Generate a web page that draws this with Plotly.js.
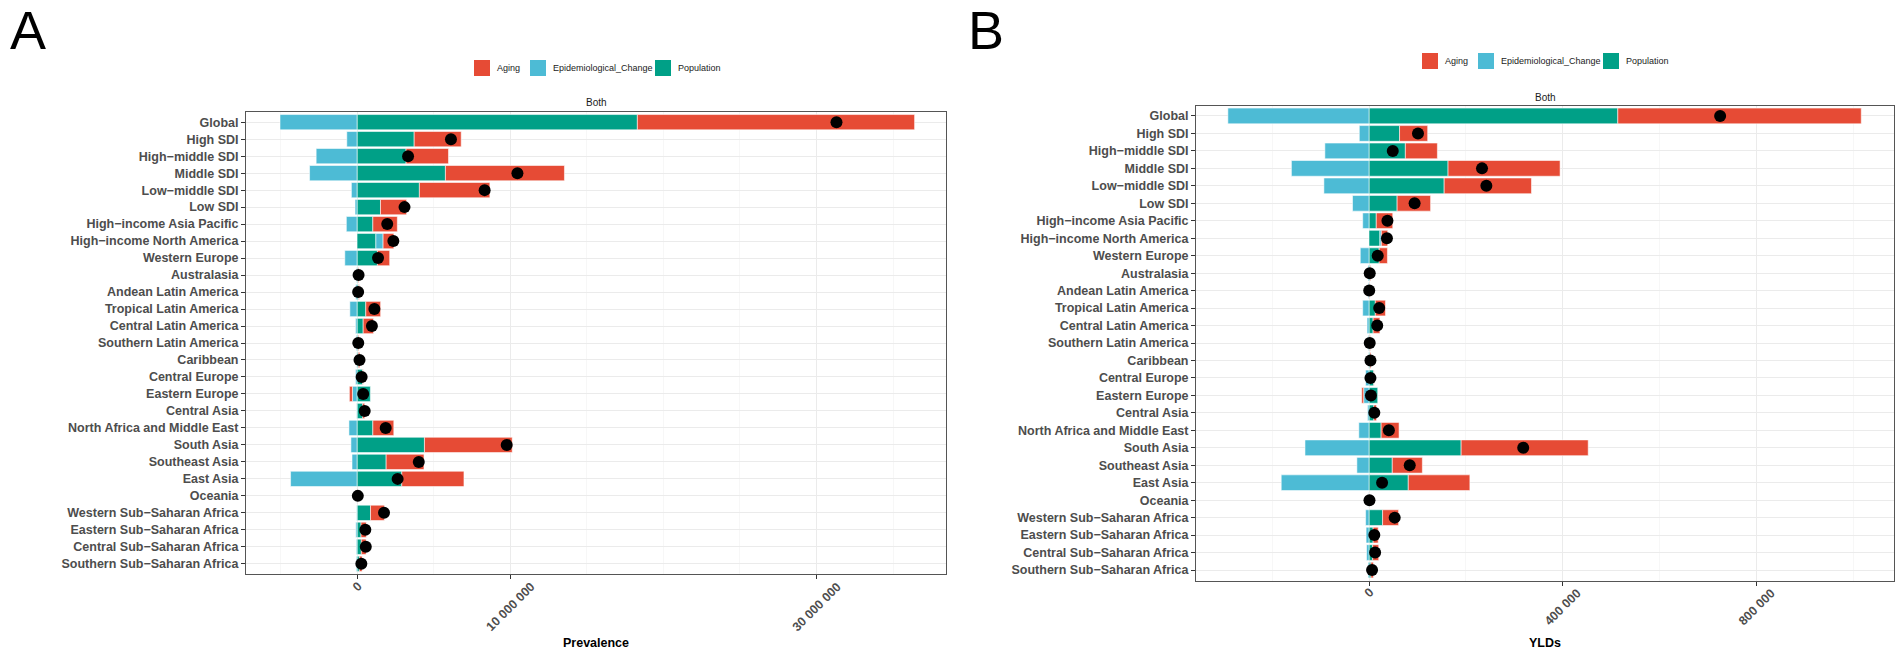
<!DOCTYPE html>
<html>
<head>
<meta charset="utf-8">
<script src="https://cdn.plot.ly/plotly-3.0.1.min.js"></script>
<style>
  html, body { margin: 0; padding: 0; background: #ffffff; }
  #chart { width: 1902px; height: 650px; }
</style>
</head>
<body>
<div id="chart"></div>
<script>
// ---------------- DATA ----------------
const categories = [
  "Global", "High SDI", "High\u2212middle SDI", "Middle SDI", "Low\u2212middle SDI", "Low SDI",
  "High\u2212income Asia Pacific", "High\u2212income North America", "Western Europe", "Australasia",
  "Andean Latin America", "Tropical Latin America", "Central Latin America", "Southern Latin America",
  "Caribbean", "Central Europe", "Eastern Europe", "Central Asia", "North Africa and Middle East",
  "South Asia", "Southeast Asia", "East Asia", "Oceania", "Western Sub\u2212Saharan Africa",
  "Eastern Sub\u2212Saharan Africa", "Central Sub\u2212Saharan Africa", "Southern Sub\u2212Saharan Africa"
];

const legendNames = ["Aging", "Epidemiological_Change", "Population"];

// Panel A: Prevalence (cases)
const prevPopulation = [18300000, 3730000, 3200000, 5770000, 4070000, 1530000, 1030000, 1230000, 1330000, 60000,
  100000, 570000, 400000, 70000, 80000, 370000, 870000, 370000, 1030000, 4400000, 1900000, 2920000, 40000,
  880000, 260000, 280000, 150000];
const prevEpi = [-5030000, -670000, -2670000, -3100000, -370000, -130000, -700000, 470000, -800000, -30000,
  -80000, -470000, -100000, -50000, -20000, -100000, -300000, -30000, -530000, -400000, -330000, -4340000, -10000,
  -30000, -80000, -50000, -50000];
const prevAging = [18100000, 3070000, 2770000, 7770000, 4600000, 1700000, 1600000, 700000, 800000, 50000,
  50000, 970000, 670000, 50000, 100000, 30000, -200000, 130000, 1370000, 5730000, 2470000, 4060000, 20000,
  900000, 340000, 310000, 180000];
const prevTotal = [31300000, 6130000, 3330000, 10470000, 8330000, 3100000, 1970000, 2370000, 1370000, 100000,
  70000, 1130000, 970000, 80000, 160000, 300000, 400000, 500000, 1870000, 9770000, 4030000, 2650000, 50000,
  1760000, 540000, 570000, 280000];

// Panel B: YLDs
const yldPopulation = [513000, 63000, 75000, 163000, 155000, 58000, 15000, 22500, 21000, 2000,
  1200, 13000, 8500, 1500, 2000, 10000, 18000, 10000, 25000, 190000, 48000, 81000, 1000,
  28000, 8500, 7500, 4000];
const yldEpi = [-291000, -20000, -91000, -160000, -93000, -34000, -13000, 3000, -18000, -2000,
  -1500, -13000, -4000, -1500, -1000, -7000, -11000, -3000, -21000, -132000, -25000, -181000, -500,
  -7000, -6000, -5000, -2000];
const yldAging = [502000, 58000, 66000, 231000, 180000, 69000, 34000, 13000, 17000, 1500,
  800, 21000, 14000, 1500, 2000, 500, -4000, 5500, 37000, 262000, 62000, 127000, 500,
  33000, 10500, 12500, 5000];
const yldTotal = [724000, 101000, 49000, 233000, 242000, 94000, 38000, 37000, 18000, 1500,
  500, 21000, 17000, 1500, 3000, 3000, 4000, 11000, 41000, 318000, 84000, 27000, 1000,
  53000, 11000, 12600, 6300];

// Axis tick labels
const prevTickVals = [0, 10000000, 30000000];
const prevTickText = ["0", "10 000 000", "30 000 000"];
const yldTickVals = [0, 400000, 800000];
const yldTickText = ["0", "400 000", "800 000"];

// ---------------- STYLE ----------------
const colors = { "Aging": "#E64B35", "Epidemiological_Change": "#4DBBD5", "Population": "#00A087" };
const W = 1902, H = 650;
const px = v => v / W;
const py = v => (H - v) / H;

const FONT = "Liberation Sans, Arial, Helvetica, sans-serif";
const tickFontY = { family: FONT, size: 12.5, color: "#4D4D4D", weight: "bold" };
const XTICK_SIZE = 12.5;

function barTrace(name, vals, xa, ya) {
  return {
    type: "bar", orientation: "h", name: name,
    x: vals, y: categories, xaxis: xa, yaxis: ya,
    marker: { color: colors[name], line: { color: "rgba(255,255,255,0.7)", width: 0.8 } },
    showlegend: false, hoverinfo: "x+y+name"
  };
}
function dotTrace(vals, xa, ya) {
  return {
    type: "scatter", mode: "markers", x: vals, y: categories, xaxis: xa, yaxis: ya,
    marker: { color: "#000000", size: 12 }, showlegend: false, name: "Total"
  };
}

// stacking order from zero outward: Population, Epidemiological_Change, Aging
const data = [
  barTrace("Population", prevPopulation, "x", "y"),
  barTrace("Epidemiological_Change", prevEpi, "x", "y"),
  barTrace("Aging", prevAging, "x", "y"),
  dotTrace(prevTotal, "x", "y"),
  barTrace("Population", yldPopulation, "x2", "y2"),
  barTrace("Epidemiological_Change", yldEpi, "x2", "y2"),
  barTrace("Aging", yldAging, "x2", "y2"),
  dotTrace(yldTotal, "x2", "y2")
];

function xAxis(domain, range, tv, minorStep, anchor) {
  return {
    domain: domain, range: range, anchor: anchor, type: "linear",
    tickmode: "array", tickvals: tv, ticktext: tv.map(() => ""), showticklabels: false,
    ticks: "outside", ticklen: 4, tickcolor: "#333333", tickwidth: 1,
    showgrid: true, gridcolor: "#EBEBEB", gridwidth: 1, zeroline: false,
    minor: { dtick: minorStep, tick0: 0, showgrid: true, gridcolor: "#F2F2F2", gridwidth: 0.6, ticks: "" },
    showline: true, mirror: true, linecolor: "#555555", linewidth: 1,
    automargin: false, fixedrange: true
  };
}
function yAxis(domain, anchor) {
  return {
    domain: domain, anchor: anchor, type: "category",
    categoryorder: "array", categoryarray: categories, range: [categories.length - 0.4, -0.6],
    tickfont: tickFontY, ticks: "outside", ticklen: 4, tickcolor: "#333333", tickwidth: 1,
    showgrid: true, gridcolor: "#EBEBEB", gridwidth: 1, zeroline: false,
    showline: true, mirror: true, linecolor: "#555555", linewidth: 1,
    automargin: false, fixedrange: true
  };
}

const shapes = [];
const annotations = [];

// ---- rotated x tick labels, centred on their ticks (ggplot angle = 45) ----
const measureCtx = document.createElement("canvas").getContext("2d");
measureCtx.font = "bold " + XTICK_SIZE + "px Liberation Sans, Arial, sans-serif";
function addTickLabels(vals, texts, xref, axisBottom) {
  vals.forEach((v, i) => {
    const w = measureCtx.measureText(texts[i]).width;
    const half = (w * Math.SQRT1_2 + XTICK_SIZE * Math.SQRT1_2) / 2;
    annotations.push({ text: texts[i], xref: xref, yref: "paper", x: v, y: py(axisBottom + 6 + half),
      xanchor: "center", yanchor: "middle", textangle: -45, showarrow: false,
      font: { family: FONT, size: XTICK_SIZE, color: "#4D4D4D", weight: "bold" } });
  });
}
addTickLabels(prevTickVals, prevTickText, "x", 574);
addTickLabels(yldTickVals, yldTickText, "x2", 580.5);

// ---- hand-built legends (ggplot-style square keys) ----
const legendOffsets = [0, 56, 181];
function addLegend(x0, yc) {
  legendNames.forEach((nm, i) => {
    const kx = x0 + legendOffsets[i];
    shapes.push({ type: "rect", xref: "paper", yref: "paper",
      x0: px(kx), x1: px(kx + 16), y0: py(yc + 8), y1: py(yc - 8),
      fillcolor: colors[nm], line: { width: 0 } });
    annotations.push({ text: nm, xref: "paper", yref: "paper", x: px(kx + 21), y: py(yc),
      xanchor: "left", yanchor: "middle", showarrow: false,
      font: { family: FONT, size: 9, color: "#1A1A1A" } });
  });
}
addLegend(474, 68);
addLegend(1422, 61);

annotations.push(
  { text: "A", xref: "paper", yref: "paper", x: px(8), y: py(-2), xanchor: "left", yanchor: "top",
    showarrow: false, font: { family: FONT, size: 54, color: "#000000" } },
  { text: "B", xref: "paper", yref: "paper", x: px(966), y: py(-2), xanchor: "left", yanchor: "top",
    showarrow: false, font: { family: FONT, size: 54, color: "#000000" } },
  { text: "Both", xref: "paper", yref: "paper", x: px(596), y: py(103), xanchor: "center", yanchor: "middle",
    showarrow: false, font: { family: FONT, size: 10, color: "#1A1A1A" } },
  { text: "Both", xref: "paper", yref: "paper", x: px(1545), y: py(97), xanchor: "center", yanchor: "middle",
    showarrow: false, font: { family: FONT, size: 10, color: "#1A1A1A" } },
  { text: "Prevalence", xref: "paper", yref: "paper", x: px(596), y: py(643), xanchor: "center", yanchor: "middle",
    showarrow: false, font: { family: FONT, size: 12.5, color: "#000000", weight: "bold" } },
  { text: "YLDs", xref: "paper", yref: "paper", x: px(1545), y: py(643), xanchor: "center", yanchor: "middle",
    showarrow: false, font: { family: FONT, size: 12.5, color: "#000000", weight: "bold" } }
);

const layout = {
  width: W, height: H,
  margin: { l: 0, r: 0, t: 0, b: 0, pad: 0 },
  paper_bgcolor: "#FFFFFF", plot_bgcolor: "#FFFFFF",
  barmode: "relative", bargap: 0.1, showlegend: false,
  font: { family: FONT, color: "#1A1A1A" },
  xaxis: xAxis([px(246), px(946)], [-7250000, 38450000], prevTickVals, 5000000, "y"),
  yaxis: yAxis([py(574), py(112)], "x"),
  xaxis2: xAxis([px(1196), px(1894)], [-356700, 1082500], yldTickVals, 200000, "y2"),
  yaxis2: yAxis([py(580.5), py(105.5)], "x2"),
  shapes: shapes,
  annotations: annotations
};

Plotly.newPlot("chart", data, layout, { displayModeBar: false, staticPlot: true });
</script>
</body>
</html>
